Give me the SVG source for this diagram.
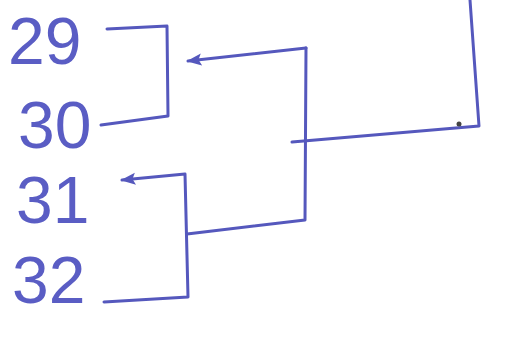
<svg xmlns="http://www.w3.org/2000/svg" width="517" height="337" viewBox="0 0 517 337">
<defs>
<style>
.ln{fill:none;stroke:#5558bd;stroke-width:3;stroke-linecap:round;stroke-linejoin:round}
.lb{font-family:"Liberation Sans",Arial,sans-serif;font-size:66px;fill:#5a5dc4;font-weight:normal}
</style>
<marker id="ah" viewBox="0 0 10 10" refX="9" refY="5" markerWidth="5" markerHeight="5" orient="auto-start-reverse">
<path d="M10,5 L0,1 L2,5 L0,9 Z" fill="#5558bd"/>
</marker>
</defs>
<rect width="517" height="337" fill="#ffffff"/>
<g id="n29"><text class="lb" x="8" y="64">29</text></g>
<g id="n30"><text class="lb" x="18" y="148">30</text></g>
<g id="n31"><text class="lb" x="16" y="223">31</text></g>
<g id="n32"><text class="lb" x="12" y="303">32</text></g>
<g id="connectors">
<path class="ln" d="M107,29 L167,26 L168,116 L101,125"/>
<path class="ln" d="M306,48 L188,61" marker-end="url(#ah)"/>
<path class="ln" d="M306,48 L305,220 L187,234"/>
<path class="ln" d="M122,180 L185,174 L188,297 L104,302" marker-start="url(#ah)"/>
<path class="ln" d="M292,142 L479,126 L470,0"/>
<circle cx="459" cy="124" r="2.5" fill="#444"/>
</g>
</svg>
